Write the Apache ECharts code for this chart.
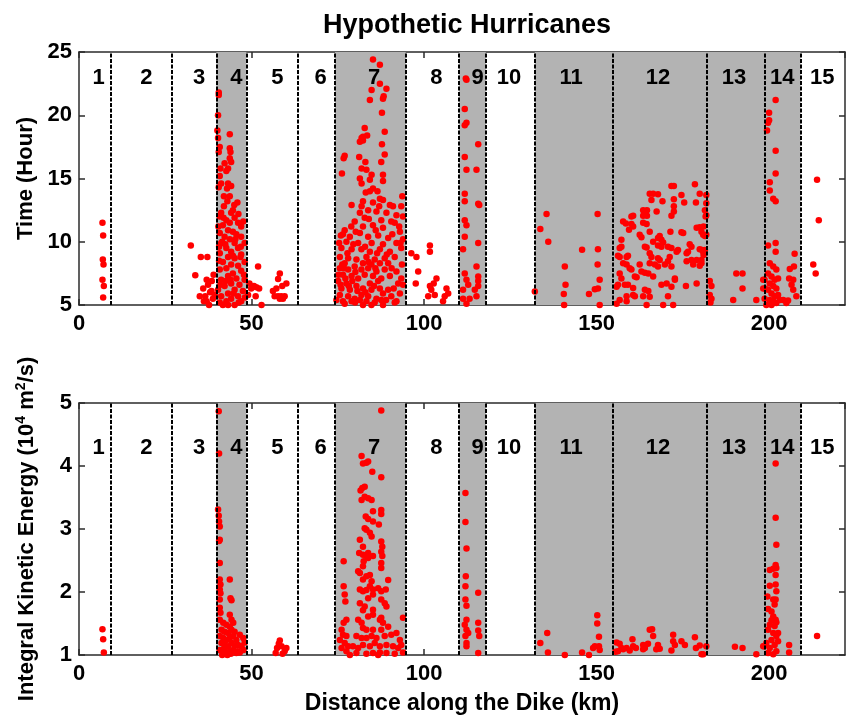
<!DOCTYPE html>
<html>
<head>
<meta charset="utf-8">
<script src="https://cdn.jsdelivr.net/npm/echarts@6/dist/echarts.min.js"></script>
<style>
  html, body { margin: 0; padding: 0; background: #fff; }
  #chart { width: 848px; height: 716px; }
</style>
</head>
<body>
<div id="chart"></div>
<script>
// ---- zones along the dike ----
const zoneNames = ['1','2','3','4','5','6','7','8','9','10','11','12','13','14','15'];
const zoneLabelX = [5.7, 19.5, 34.8, 45.6, 57.5, 70.0, 85.5, 103.6, 115.5, 124.6, 142.6, 167.8, 189.8, 203.8, 215.4];
const zoneEdges = [9.2, 27.0, 39.8, 48.5, 63.3, 74.2, 94.7, 110.2, 117.9, 132.1, 154.8, 181.9, 198.8, 209.1];
const shadedSpans = [[39.8, 48.5], [74.2, 94.7], [110.2, 117.9], [132.1, 209.1]];

// ---- axis ticks ----
const distanceTicks = [0, 50, 100, 150, 200];
const timeTicks = [5, 10, 15, 20, 25];
const energyTicks = [1, 2, 3, 4, 5];

// ---- time of arrival (hour) per zone: [distance km, hour] ----
const timeZone1 = [[6.8,11.5],[7.0,10.5],[6.9,8.6],[7.1,8.2],[6.8,7.0],[7.2,6.5],[7.0,5.6]];
const timeZone3 = [[32.4,9.7],[33.7,7.35],[35.3,8.8],[37.2,8.8],[36.0,6.3],[35.0,5.7],[36.6,5.7],[37.0,7.0],[37.4,6.6],[37.7,5.0],[38.8,5.5],[38.4,6.1],[39.0,7.4],[38.0,6.0],[36.2,5.3],[39.3,5.8],[37.0,5.3],[38.5,6.9]];
const timeZone4 = [[40.5,21.8],[40.5,21.6],[40.3,20.0],[40.1,18.8],[43.7,18.5],[40.3,18.2],[40.8,17.5],[40.5,17.1],[43.7,17.4],[43.9,17.1],[43.7,16.6],[44.1,16.3],[42.2,16.2],[43.2,15.8],[42.7,15.6],[41.0,15.8],[40.8,15.2],[41.2,14.6],[43.2,14.6],[44.1,14.4],[40.5,14.3],[42.0,13.6],[43.7,13.6],[43.0,13.2],[45.9,13.1],[44.6,12.5],[41.2,12.3],[44.1,12.3],[40.8,12.0],[45.1,11.9],[42.7,11.7],[43.7,11.5],[46.1,11.5],[41.7,11.3],[47.0,11.2],[43.2,10.9],[44.6,10.8],[40.8,10.7],[45.6,10.6],[42.2,10.4],[47.0,10.4],[43.7,10.2],[41.2,9.9],[45.1,9.9],[48.0,9.9],[42.7,9.5],[46.1,9.5],[44.1,9.2],[40.8,9.1],[47.0,9.0],[43.2,8.8],[45.1,8.7],[41.7,8.4],[48.0,8.4],[44.1,8.2],[46.1,8.1],[42.7,7.9],[40.8,7.8],[47.0,7.7],[44.6,7.5],[43.2,7.3],[45.6,7.1],[41.2,7.0],[48.0,7.0],[44.1,6.7],[46.5,6.6],[42.2,6.5],[40.3,6.2],[45.1,6.2],[47.5,6.1],[43.2,5.9],[41.2,5.7],[46.1,5.7],[44.1,5.5],[42.7,5.3],[47.0,5.3],[40.8,5.2],[45.1,5.0],[43.2,5.0],[41.7,5.0],[42.0,12.8],[45.0,12.9],[41.5,10.0],[46.8,8.8],[42.5,6.9],[44.8,5.9],[40.6,9.6],[47.6,11.6],[40.4,11.2],[41.9,11.9],[45.3,10.2],[46.9,9.6],[47.8,7.4],[40.6,8.5],[42.4,9.8],[43.9,7.0],[46.3,5.2],[48.1,5.6],[41.0,6.6],[44.6,8.9],[46.2,12.2],[42.9,14.2]];
const timeZone5 = [[49.4,6.7],[49.9,6.3],[50.7,6.5],[51.4,6.4],[52.2,6.3],[51.9,8.05],[51.2,5.7],[52.9,5.0],[49.0,5.8],[58.2,7.5],[57.7,7.05],[57.2,6.3],[60.1,6.7],[58.9,6.5],[56.2,6.1],[56.7,5.7],[57.7,5.7],[58.6,5.7],[59.6,5.7],[58.2,5.5],[59.1,5.5]];
const timeZone7 = [[85.2,24.4],[87.2,24.0],[87.2,22.5],[84.8,22.0],[89.1,22.1],[84.3,21.2],[88.1,21.3],[88.3,21.5],[87.8,20.2],[82.8,19.0],[88.6,18.7],[81.9,18.2],[82.3,18.3],[83.5,18.4],[81.4,17.9],[82.3,18.0],[87.8,17.7],[77.0,16.8],[76.7,16.6],[81.2,16.7],[87.6,16.3],[76.2,15.4],[81.9,15.8],[83.3,15.7],[81.4,15.0],[84.8,15.3],[84.3,14.9],[81.9,14.6],[85.2,14.2],[88.1,14.8],[88.1,15.3],[83.1,13.9],[84.3,14.0],[87.2,13.4],[88.1,13.3],[82.3,13.2],[85.2,13.1],[90.1,12.9],[91.0,12.8],[93.7,13.6],[93.4,12.8],[81.9,12.8],[81.4,12.3],[83.8,12.5],[86.2,12.4],[89.1,12.3],[92.0,12.1],[93.9,12.0],[82.8,11.9],[87.6,11.7],[90.5,11.6],[79.9,11.6],[77.0,10.9],[82.3,11.2],[85.2,11.3],[88.1,11.1],[91.5,11.5],[93.0,10.8],[76.5,10.6],[78.5,10.4],[81.4,10.7],[83.8,10.4],[86.7,10.5],[89.6,10.3],[93.9,10.2],[77.5,10.0],[80.9,9.9],[84.8,9.9],[88.1,9.8],[92.0,9.9],[76.05,9.5],[79.0,9.4],[81.85,9.4],[84.3,9.2],[87.2,9.4],[90.1,9.2],[93.4,9.5],[75.6,8.8],[78.0,8.7],[80.4,8.6],[83.3,8.8],[85.7,8.6],[88.6,8.7],[91.5,8.8],[77.0,8.3],[82.3,8.3],[84.75,8.2],[87.2,8.3],[89.6,8.3],[75.6,7.9],[78.0,7.8],[79.9,8.05],[81.85,7.8],[83.8,7.9],[86.2,7.65],[88.6,7.8],[92.0,7.65],[76.5,7.4],[79.0,7.3],[80.9,7.1],[82.8,7.4],[85.2,7.3],[87.6,7.1],[90.1,7.3],[93.4,7.1],[75.1,6.9],[77.5,6.7],[84.3,6.7],[86.7,6.9],[92.5,6.7],[76.05,6.3],[78.5,6.2],[80.4,6.5],[82.3,6.3],[84.75,6.2],[87.2,6.3],[89.6,6.2],[75.6,5.8],[78.0,5.7],[79.9,5.5],[81.85,5.8],[83.8,5.7],[86.2,5.5],[88.1,5.9],[90.5,5.7],[76.5,5.3],[79.0,5.3],[81.4,5.4],[83.3,5.3],[85.7,5.2],[87.6,5.4],[92.0,5.3],[74.6,5.4],[93.0,5.9],[82.3,5.0],[84.75,5.0],[88.1,5.0],[75.2,7.4],[75.8,6.6],[76.8,7.9],[77.2,7.1],[78.2,6.5],[79.2,6.9],[80.1,7.6],[80.7,6.1],[77.8,9.1],[79.5,9.8],[80.2,10.8],[78.9,11.2],[76.3,8.2],[75.4,9.9],[75.9,10.5],[82.9,9.6],[83.9,8.4],[85.9,7.9],[86.4,9.1],[89.2,9.0],[90.6,7.9],[91.2,6.3],[93.6,8.2],[93.2,9.9],[92.8,11.2],[90.8,10.6],[86.0,10.9],[84.0,11.8],[87.0,12.8],[85.5,6.5],[83.0,6.0],[80.0,5.2],[77.0,5.1],[89.0,5.4],[91.5,5.2],[93.9,6.6],[86.5,14.0],[83.0,16.3],[88.6,16.9],[79.0,12.9]];
const timeZone8 = [[96.3,9.1],[97.8,8.8],[101.7,9.7],[101.7,9.2],[98.3,7.65],[97.6,6.7],[103.6,7.1],[102.8,6.7],[101.7,6.5],[102.1,6.2],[101.2,5.7],[103.1,5.8],[106.5,6.3],[106.0,5.7],[105.5,5.3],[107.0,5.9]];
const timeZone9 = [[112.1,22.9],[112.3,22.8],[111.8,20.5],[112.3,19.4],[111.8,19.2],[115.7,17.7],[111.8,16.7],[112.3,15.7],[115.2,15.7],[111.8,13.8],[115.7,13.0],[116.0,12.9],[111.8,13.2],[111.8,11.7],[112.3,11.3],[115.7,9.9],[111.8,10.4],[111.3,9.4],[115.2,8.05],[111.8,7.5],[115.7,7.25],[115.7,6.9],[112.3,7.0],[112.8,6.6],[111.3,6.2],[114.7,6.2],[115.7,6.5],[111.3,5.5],[113.2,5.5],[115.2,5.7],[112.3,5.1]];
const timeZone11 = [[132.1,6.07],[133.7,11.0],[135.5,12.2],[136.0,10.0],[140.8,8.05],[141.0,6.6],[140.5,5.86],[140.6,5.0],[145.8,9.36],[147.8,5.86],[150.3,12.2],[150.4,9.4],[150.3,8.2],[150.9,7.0],[149.5,6.25],[150.4,6.3],[150.9,5.0]];
const timeZone12 = [[171.7,14.4],[172.4,14.4],[178.5,14.55],[165.4,13.8],[166.4,13.8],[167.8,13.75],[174.6,13.7],[179.9,13.8],[165.9,13.3],[169.1,13.2],[172.4,13.35],[181.8,13.7],[172.4,12.8],[172.4,12.4],[175.4,13.1],[178.8,13.1],[163.5,12.5],[164.6,12.5],[167.4,12.4],[160.1,12.0],[160.6,12.05],[163.5,12.05],[164.6,12.05],[171.7,12.05],[181.8,12.1],[157.7,11.6],[158.5,11.45],[160.1,11.4],[160.6,11.2],[163.5,11.5],[164.5,11.4],[159.4,10.95],[162.5,10.55],[165.4,10.8],[168.3,10.45],[167.8,10.3],[171.4,10.8],[174.6,10.75],[175.1,10.7],[179.0,11.1],[179.9,11.15],[180.4,10.8],[180.9,10.55],[181.4,10.45],[157.2,10.15],[163.0,10.35],[168.8,10.15],[169.3,9.95],[166.4,10.0],[177.0,9.8],[177.5,9.6],[156.7,9.5],[157.2,9.6],[164.0,9.6],[164.5,9.55],[167.8,9.7],[168.8,9.6],[170.7,9.6],[171.7,9.5],[173.2,9.2],[173.6,9.35],[179.9,9.4],[180.9,9.2],[181.4,9.35],[156.2,8.9],[156.7,8.8],[158.7,8.8],[159.1,8.9],[165.4,9.1],[165.9,8.8],[167.8,8.7],[168.3,8.55],[176.1,9.1],[176.5,9.2],[177.5,8.55],[179.0,8.55],[171.2,8.8],[170.7,8.45],[165.4,8.3],[166.9,8.2],[167.8,8.05],[157.7,8.3],[158.7,8.2],[159.6,7.9],[160.1,7.8],[162.5,8.2],[169.8,8.2],[171.7,8.05],[176.1,8.45],[178.0,8.2],[179.9,8.1],[180.4,8.3],[163.0,7.65],[164.0,7.55],[165.0,7.5],[161.6,7.2],[161.1,7.25],[166.4,7.25],[156.7,7.5],[157.2,7.1],[172.7,7.1],[172.7,7.0],[156.2,6.6],[155.8,6.45],[158.2,6.6],[159.1,6.6],[160.6,6.35],[164.0,6.2],[165.0,6.1],[168.8,6.6],[170.3,6.7],[171.7,6.45],[175.9,6.5],[179.0,6.7],[158.7,5.7],[160.6,5.8],[161.1,5.7],[163.5,5.7],[165.4,5.65],[170.7,5.7],[156.7,5.4],[158.7,5.3],[155.8,5.1],[164.5,5.0],[169.3,5.0],[172.2,5.0],[181.8,13.05],[181.4,12.5],[181.6,12.0],[181.0,11.2],[181.8,10.55],[180.6,9.35],[181.0,8.95],[180.4,8.55]];
const timeZone13 = [[183.3,6.5],[182.8,5.8],[183.3,5.5],[189.6,5.4],[190.5,7.5],[192.3,7.5],[192.3,6.3],[196.3,5.4],[198.3,7.0],[198.8,6.3],[182.8,6.9],[183.0,5.2]];
const timeZone14 = [[201.9,21.2],[200.0,20.2],[200.0,19.6],[199.7,19.4],[199.4,18.8],[201.9,17.2],[201.9,15.4],[200.2,14.7],[200.2,14.05],[201.2,13.4],[201.9,13.2],[201.9,9.9],[201.9,9.2],[199.7,9.7],[207.4,9.05],[207.2,8.05],[206.0,7.85],[207.0,7.0],[205.8,7.1],[206.5,6.6],[200.2,8.3],[201.2,8.05],[202.1,7.8],[199.7,7.5],[200.7,7.25],[201.6,7.0],[202.6,7.1],[200.2,6.7],[201.2,6.5],[202.1,6.3],[199.7,6.2],[200.7,5.9],[201.6,5.7],[202.6,5.8],[198.7,5.5],[200.2,5.4],[201.2,5.3],[202.1,5.15],[203.1,5.4],[199.2,5.0],[200.7,5.0],[204.1,5.4],[205.0,5.15],[205.5,5.35],[207.0,6.2],[207.9,5.7],[198.3,6.3],[198.7,7.0]];
const timeZone15 = [[213.9,14.9],[214.4,11.7],[212.8,8.2],[213.5,7.5]];

// ---- integral kinetic energy (10^4 m^2/s) per zone: [distance km, energy] ----
const energyZone1 = [[6.8,1.41],[7.0,1.25],[7.2,1.04]];
const energyZone4 = [[40.5,4.87],[40.6,4.2],[40.3,3.31],[40.5,3.21],[40.6,3.12],[40.8,3.04],[40.8,2.83],[40.6,2.81],[40.8,2.46],[40.8,2.2],[41.0,2.12],[43.7,2.2],[40.8,2.04],[41.0,1.98],[43.9,1.9],[44.2,1.87],[40.8,1.88],[40.8,1.75],[41.0,1.67],[43.7,1.64],[44.2,1.56],[40.8,1.56],[41.8,1.51],[42.7,1.48],[43.7,1.45],[44.7,1.51],[41.3,1.4],[42.2,1.37],[43.2,1.35],[44.2,1.4],[45.1,1.37],[46.6,1.32],[40.8,1.3],[41.8,1.27],[42.7,1.24],[43.7,1.27],[44.7,1.3],[45.6,1.24],[47.6,1.27],[41.3,1.19],[42.2,1.16],[43.2,1.14],[44.2,1.19],[45.1,1.15],[46.1,1.16],[47.1,1.14],[40.8,1.08],[41.8,1.06],[42.7,1.03],[43.7,1.06],[44.7,1.08],[45.6,1.03],[46.6,1.04],[47.7,1.08],[41.5,1.0],[43.0,1.0],[44.0,1.02],[42.0,1.1],[46.0,1.06],[48.0,1.2]];
const energyZone5 = [[58.2,1.23],[57.9,1.18],[57.4,1.11],[58.7,1.14],[60.1,1.11],[59.6,1.06],[57.0,1.03],[59.0,1.02]];
const energyZone7 = [[87.6,4.88],[81.9,4.16],[82.3,4.04],[83.3,4.05],[83.8,4.07],[85.0,3.91],[87.6,3.82],[82.1,3.65],[82.8,3.67],[81.6,3.61],[81.9,3.46],[83.8,3.49],[84.8,3.46],[82.8,3.51],[85.2,3.28],[87.6,3.3],[87.6,3.24],[83.1,3.2],[83.8,3.16],[85.2,3.12],[86.9,3.07],[83.3,2.99],[84.3,2.94],[84.8,2.88],[82.8,3.01],[87.6,2.8],[87.9,2.72],[87.6,2.64],[87.9,2.57],[81.4,2.83],[82.3,2.72],[81.2,2.62],[82.3,2.59],[83.3,2.57],[83.8,2.62],[82.5,2.49],[83.8,2.54],[85.2,2.57],[76.7,2.49],[87.6,2.46],[87.6,2.38],[82.3,2.41],[81.4,2.3],[80.9,2.33],[84.3,2.27],[83.3,2.25],[89.6,2.19],[82.3,2.2],[84.8,2.17],[84.3,2.09],[81.4,2.04],[82.3,2.01],[83.3,2.03],[85.2,2.04],[86.7,2.06],[87.6,2.01],[88.9,2.04],[76.7,2.09],[77.0,1.96],[77.2,1.85],[83.8,1.9],[85.2,1.96],[87.6,1.88],[88.6,1.82],[89.1,1.77],[81.4,1.82],[82.8,1.77],[82.3,1.71],[85.2,1.72],[77.5,1.56],[76.7,1.51],[83.8,1.61],[85.2,1.64],[87.6,1.59],[88.1,1.51],[87.2,1.56],[89.6,1.45],[80.9,1.56],[81.9,1.51],[82.3,1.43],[83.3,1.4],[85.2,1.4],[87.6,1.4],[93.9,1.59],[76.1,1.4],[76.5,1.32],[77.5,1.3],[75.6,1.24],[77.0,1.19],[78.0,1.14],[76.1,1.11],[80.4,1.3],[81.9,1.27],[83.3,1.27],[84.8,1.3],[86.2,1.27],[88.6,1.3],[90.5,1.32],[92.0,1.35],[93.0,1.24],[93.4,1.16],[79.4,1.14],[80.9,1.11],[82.3,1.16],[84.3,1.14],[85.7,1.19],[87.2,1.14],[89.1,1.16],[91.0,1.14],[92.5,1.11],[77.5,1.06],[80.4,1.03],[83.3,1.02],[85.2,1.03],[87.2,1.04],[89.1,1.03],[91.5,1.02],[93.9,1.04],[78.5,1.0],[86.7,1.0]];
const energyZone9 = [[112.0,3.57],[112.0,3.11],[112.3,2.69],[112.1,2.25],[112.0,2.09],[115.7,1.99],[112.0,1.88],[112.3,1.78],[112.3,1.56],[115.7,1.51],[111.8,1.48],[112.3,1.4],[112.8,1.35],[112.0,1.3],[112.3,1.19],[112.3,1.14],[115.7,1.39],[116.0,1.3],[115.7,1.03]];
const energyZone11 = [[133.7,1.19],[135.7,1.35],[135.9,1.04],[140.8,1.0],[145.8,1.04],[147.8,1.0],[150.2,1.63],[150.2,1.5],[150.7,1.29],[149.5,1.14],[150.7,1.14],[150.9,1.08],[149.0,1.11]];
const energyZone12 = [[156.7,1.18],[157.2,1.11],[156.2,1.06],[157.7,1.09],[158.7,1.11],[159.6,1.07],[160.4,1.25],[160.6,1.14],[163.5,1.16],[164.0,1.11],[164.9,1.18],[165.4,1.4],[166.1,1.41],[166.4,1.3],[167.3,1.09],[167.8,1.16],[168.3,1.1],[171.7,1.07],[172.2,1.32],[172.2,1.22],[172.7,1.16],[174.6,1.22],[175.6,1.16],[178.5,1.28],[178.8,1.11],[179.9,1.15],[180.4,1.01],[180.9,1.01],[181.8,1.14],[163.5,1.09],[161.4,1.11],[155.5,1.05],[155.8,1.2]];
const energyZone13 = [[190.1,1.13],[192.3,1.11],[196.3,1.01],[198.5,1.14]];
const energyZone14 = [[201.9,4.04],[201.9,3.18],[202.1,2.75],[200.2,2.35],[201.2,2.37],[201.9,2.43],[202.1,2.38],[201.9,2.27],[200.2,2.1],[201.9,2.12],[202.1,2.01],[199.5,1.93],[201.2,1.88],[201.9,1.88],[199.7,1.73],[200.7,1.69],[201.2,1.61],[201.9,1.56],[202.1,1.52],[200.2,1.48],[201.6,1.46],[199.7,1.4],[201.2,1.35],[202.1,1.3],[200.7,1.24],[199.2,1.19],[201.6,1.16],[200.2,1.11],[202.1,1.06],[199.7,1.03],[201.2,1.01],[205.8,1.16],[205.8,1.04],[198.3,1.14],[202.6,1.22],[202.6,1.35],[200.7,1.55],[201.6,1.8]];
const energyZone15 = [[213.9,1.3]];

const timePoints = [].concat(timeZone1, timeZone3, timeZone4, timeZone5, timeZone7, timeZone8,
  timeZone9, timeZone11, timeZone12, timeZone13, timeZone14, timeZone15);
const energyPoints = [].concat(energyZone1, energyZone4, energyZone5, energyZone7, energyZone9,
  energyZone11, energyZone12, energyZone13, energyZone14, energyZone15);

// ---- styling ----
const FONT = 'Liberation Sans, Arial, Helvetica, sans-serif';
const FRAME = { color: '#2b2b2b', width: 1.5 };
const tickText = { fontFamily: FONT, fontSize: 22, fontWeight: 'bold', color: '#000' };
const DOT = 6.5;

function xAxisFor(gridIndex, position, withLabels, name) {
  return {
    type: 'value', gridIndex, position, min: 0, max: 222, interval: 50,
    axisLine: { show: true, onZero: false, lineStyle: FRAME },
    axisTick: { show: true, inside: true, length: 6, lineStyle: FRAME },
    axisLabel: Object.assign({
      show: withLabels, margin: 8, showMaxLabel: false,
      formatter: v => distanceTicks.includes(v) ? String(v) : ''
    }, tickText),
    splitLine: { show: false },
    name: name || '', nameLocation: 'middle', nameGap: 37,
    nameTextStyle: { fontFamily: FONT, fontSize: 23, fontWeight: 'bold', color: '#000' }
  };
}

function yAxisFor(gridIndex, position, lo, hi, step, ticks, withLabels, name, rich) {
  return {
    type: 'value', gridIndex, position, min: lo, max: hi, interval: step,
    axisLine: { show: true, onZero: false, lineStyle: FRAME },
    axisTick: { show: true, inside: true, length: 6, lineStyle: FRAME },
    axisLabel: Object.assign({
      show: withLabels, margin: 7,
      formatter: v => ticks.includes(v) ? String(v) : ''
    }, tickText),
    splitLine: { show: false },
    name: name || '', nameLocation: 'middle', nameGap: 39, nameRotate: 90,
    nameTextStyle: Object.assign({ fontFamily: FONT, fontSize: 22, fontWeight: 'bold', color: '#000' },
      rich ? { rich } : {})
  };
}

// gray zone bands, dashed zone edges and the zone numbers of one panel
function zoneLayers(xi, yi, labelY) {
  return [
    {
      type: 'line', xAxisIndex: xi, yAxisIndex: yi, data: [], z: 1, silent: true,
      markArea: {
        silent: true,
        itemStyle: { color: '#b3b3b3', opacity: 1 },
        data: shadedSpans.map(s => [{ xAxis: s[0] }, { xAxis: s[1] }])
      }
    },
    {
      type: 'line', xAxisIndex: xi, yAxisIndex: yi, data: [], z: 4, silent: true,
      markLine: {
        silent: true, animation: false,
        symbol: ['none', 'none'],
        label: { show: false },
        lineStyle: { color: '#000', type: [4, 1.5], width: 2 },
        data: zoneEdges.map(v => ({ xAxis: v }))
      }
    },
    {
      type: 'custom', xAxisIndex: xi, yAxisIndex: yi, z: 5, silent: true,
      data: zoneLabelX.map(x => [x, labelY]),
      renderItem: (params, api) => {
        const p = api.coord([api.value(0), api.value(1)]);
        return {
          type: 'text', x: p[0], y: p[1],
          style: {
            text: zoneNames[params.dataIndex], fill: '#000',
            fontFamily: FONT, fontSize: 22, fontWeight: 'bold',
            align: 'center', verticalAlign: 'middle'
          }
        };
      }
    }
  ];
}

const energyRich = {
  a: { fontFamily: FONT, fontSize: 22, fontWeight: 'bold', color: '#000', lineHeight: 26 },
  s: { fontFamily: FONT, fontSize: 14, fontWeight: 'bold', color: '#000', verticalAlign: 'top', lineHeight: 26 }
};

const chart = echarts.init(document.getElementById('chart'), null, { renderer: 'canvas' });
chart.setOption({
  animation: false,
  backgroundColor: '#fff',
  title: {
    text: 'Hypothetic Hurricanes', left: 462, top: 7, textAlign: 'center',
    textStyle: { fontFamily: FONT, fontSize: 27, fontWeight: 'bold', color: '#000' }
  },
  grid: [
    { left: 79, right: 3, top: 52, height: 253, outerBoundsMode: 'none' },
    { left: 79, right: 3, top: 403, height: 252, outerBoundsMode: 'none' }
  ],
  xAxis: [
    xAxisFor(0, 'bottom', true),
    xAxisFor(0, 'top', false),
    xAxisFor(1, 'bottom', true, 'Distance along the Dike (km)'),
    xAxisFor(1, 'top', false)
  ],
  yAxis: [
    yAxisFor(0, 'left', 5, 25, 5, timeTicks, true, 'Time (Hour)'),
    yAxisFor(0, 'right', 5, 25, 5, timeTicks, false),
    yAxisFor(1, 'left', 1, 5, 1, energyTicks, true,
      '{a|Integral Kinetic Energy (10}{s|4}{a| m}{s|2}{a|/s)}', energyRich),
    yAxisFor(1, 'right', 1, 5, 1, energyTicks, false)
  ],
  series: [
    ...zoneLayers(0, 0, 22.95),
    {
      type: 'scatter', xAxisIndex: 0, yAxisIndex: 0, z: 3,
      symbol: 'circle', symbolSize: DOT,
      itemStyle: { color: '#ff0000', opacity: 1 },
      data: timePoints
    },
    ...zoneLayers(2, 2, 4.29),
    {
      type: 'scatter', xAxisIndex: 2, yAxisIndex: 2, z: 3,
      symbol: 'circle', symbolSize: DOT,
      itemStyle: { color: '#ff0000', opacity: 1 },
      data: energyPoints
    }
  ]
});
</script>
</body>
</html>
